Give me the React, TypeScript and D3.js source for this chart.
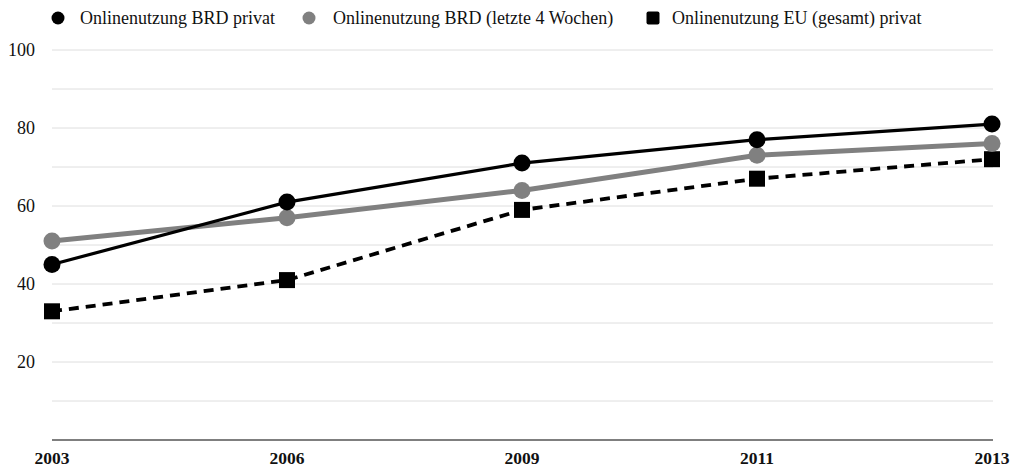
import React from "react";
import * as d3 from "d3";

const years = ["2003", "2006", "2009", "2011", "2013"];
const brdPrivat = [45, 61, 71, 77, 81];
const brdVierWochen = [51, 57, 64, 73, 76];
const euPrivat = [33, 41, 59, 67, 72];
const yTickLabels = [20, 40, 60, 80, 100];
const gridValues = [10, 20, 30, 40, 50, 60, 70, 80, 90, 100];
const seriesNames = [
  "Onlinenutzung BRD privat",
  "Onlinenutzung BRD (letzte 4 Wochen)",
  "Onlinenutzung EU (gesamt) privat",
];

const W = 1013;
const H = 468;
const FONT = "Liberation Serif, DejaVu Serif, serif";
const ts = { fontFamily: FONT };

export default function App() {
  const x = d3.scalePoint<string>().domain(years).range([52, 992]);
  const y = d3.scaleLinear().domain([0, 100]).range([440, 50]);
  const line = d3
    .line<number>()
    .x((_, i) => x(years[i]) as number)
    .y((d) => y(d));

  const legendX = [58, 309, 653];
  const legendTextX = [80, 333, 672];

  return (
    <svg
      width={W}
      height={H}
      style={{ position: "absolute", left: 0, top: 0, background: "#fff", fontFamily: FONT }}
    >
      {gridValues.map((v) => (
        <line key={v} x1={52} x2={993} y1={y(v)} y2={y(v)} stroke="#dedede" strokeWidth={1} />
      ))}
      <line x1={52} x2={993} y1={y(0)} y2={y(0)} stroke="#000" strokeWidth={1.2} />
      {yTickLabels.map((v) => (
        <text key={v} x={35} y={y(v)} dy="0.35em" textAnchor="end" fontSize={18} fill="#111" style={ts}>
          {v}
        </text>
      ))}
      {years.map((yr) => (
        <text key={yr} x={x(yr)} y={464} textAnchor="middle" fontSize={17.5} fontWeight="bold" fill="#111" style={ts}>
          {yr}
        </text>
      ))}

      <path d={line(euPrivat) || ""} fill="none" stroke="#000" strokeWidth={3.8} strokeDasharray="10,7" />
      {euPrivat.map((v, i) => (
        <rect key={i} x={(x(years[i]) as number) - 8} y={y(v) - 8} width={16} height={16} fill="#000" />
      ))}

      <path d={line(brdVierWochen) || ""} fill="none" stroke="#808080" strokeWidth={5} />
      {brdVierWochen.map((v, i) => (
        <circle key={i} cx={x(years[i]) as number} cy={y(v)} r={8.5} fill="#808080" />
      ))}

      <path d={line(brdPrivat) || ""} fill="none" stroke="#000" strokeWidth={3.2} />
      {brdPrivat.map((v, i) => (
        <circle key={i} cx={x(years[i]) as number} cy={y(v)} r={8.5} fill="#000" />
      ))}

      {seriesNames.map((name, i) => (
        <g key={name}>
          {i < 2 ? (
            <circle cx={legendX[i]} cy={18} r={6.5} fill={i === 0 ? "#000" : "#808080"} />
          ) : (
            <rect x={legendX[i] - 6.5} y={11.5} width={13} height={13} rx={2} fill="#000" />
          )}
          <text x={legendTextX[i]} y={18} dy="0.35em" fontSize={18} fill="#111" style={ts}>
            {name}
          </text>
        </g>
      ))}
    </svg>
  );
}
